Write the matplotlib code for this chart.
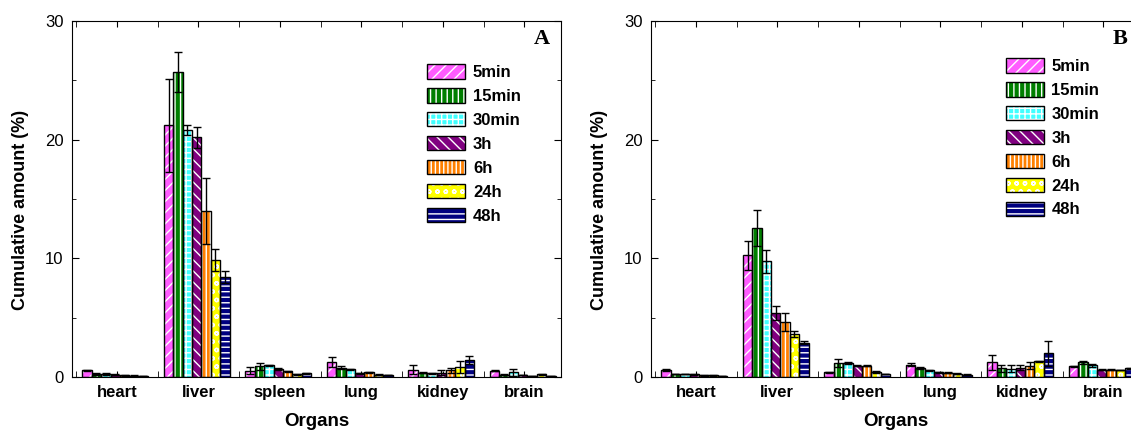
import numpy as np
import matplotlib
matplotlib.use('Agg')
import matplotlib.pyplot as plt
from matplotlib.patches import Patch
from matplotlib.ticker import MultipleLocator

plt.rcParams['font.family'] = ['Liberation Sans', 'DejaVu Sans']
plt.rcParams['hatch.linewidth'] = 1.0

organs = ['heart', 'liver', 'spleen', 'lung', 'kidney', 'brain']
times = ['5min', '15min', '30min', '3h', '6h', '24h', '48h']

# panel A, rows = time points, columns = organs
mean_a = [[0.56, 21.2, 0.54, 1.27, 0.62, 0.54],
          [0.25, 25.7, 0.90, 0.79, 0.37, 0.20],
          [0.25, 20.8, 0.99, 0.65, 0.30, 0.40],
          [0.20, 20.2, 0.65, 0.30, 0.37, 0.17],
          [0.15, 14.0, 0.48, 0.39, 0.56, 0.08],
          [0.12, 9.85, 0.22, 0.20, 0.85, 0.22],
          [0.08, 8.40, 0.30, 0.17, 1.44, 0.08]]
err_a = [[0.05, 3.90, 0.30, 0.42, 0.36, 0.05],
         [0.05, 1.70, 0.28, 0.10, 0.05, 0.05],
         [0.05, 0.40, 0.05, 0.05, 0.05, 0.28],
         [0.03, 0.90, 0.10, 0.05, 0.20, 0.03],
         [0.03, 2.75, 0.05, 0.05, 0.20, 0.03],
         [0.03, 0.95, 0.03, 0.03, 0.53, 0.05],
         [0.02, 0.50, 0.05, 0.03, 0.33, 0.02]]

# panel B
mean_b = [[0.59, 10.25, 0.40, 1.04, 1.24, 0.90],
          [0.25, 12.55, 1.18, 0.75, 0.75, 1.25],
          [0.25, 9.75, 1.18, 0.55, 0.70, 1.00],
          [0.22, 5.40, 0.95, 0.40, 0.80, 0.62],
          [0.15, 4.65, 0.95, 0.37, 0.95, 0.62],
          [0.15, 3.60, 0.40, 0.28, 1.33, 0.58],
          [0.10, 2.90, 0.25, 0.20, 2.00, 0.75]]
err_b = [[0.05, 1.25, 0.05, 0.12, 0.65, 0.05],
         [0.03, 1.50, 0.30, 0.10, 0.30, 0.12],
         [0.03, 0.95, 0.05, 0.03, 0.30, 0.12],
         [0.03, 0.60, 0.03, 0.03, 0.20, 0.03],
         [0.03, 0.75, 0.03, 0.03, 0.30, 0.03],
         [0.03, 0.25, 0.10, 0.03, 0.05, 0.03],
         [0.02, 0.10, 0.03, 0.03, 1.05, 0.05]]

colors = ['#ff5cff', '#007f00', '#40ffff', '#800080', '#ff8000', '#ffff00', '#000080']
hatches = ['///', '|||', '+++', '\\\\\\', '||||', 'oo', '---']

fig = plt.figure(figsize=(11.31, 4.36), dpi=100)
ax_a = fig.add_axes([0.0637, 0.1353, 0.4324, 0.8165])
ax_b = fig.add_axes([0.5756, 0.1353, 0.4324, 0.8165])

x = np.arange(1, len(organs) + 1)
w = 0.115


def draw_panel(ax, mean, err, letter, leg_xy):
    for i in range(len(times)):
        xi = x + (i - 3) * w - 0.02
        ax.bar(xi, mean[i], w, color=colors[i], edgecolor='white', linewidth=0,
               hatch=hatches[i], zorder=2)
        ax.bar(xi, mean[i], w, fill=False, edgecolor='black', linewidth=1, zorder=3)
        ax.errorbar(xi, mean[i], yerr=err[i], fmt='none', ecolor='black',
                    elinewidth=1, capsize=3, capthick=1, zorder=4)
    ax.set_xlim(0.45, 6.45)
    ax.set_ylim(0, 30)
    ax.set_xticks(x)
    ax.set_xticklabels(organs, fontsize=12, fontweight='bold')
    ax.xaxis.set_minor_locator(MultipleLocator(0.5))
    ax.yaxis.set_major_locator(MultipleLocator(10))
    ax.yaxis.set_minor_locator(MultipleLocator(5))
    ax.tick_params(which='both', direction='in', top=True, right=True)
    ax.tick_params(axis='y', which='major', length=5, labelsize=12, pad=6)
    ax.tick_params(axis='y', which='minor', length=3)
    ax.tick_params(axis='x', which='major', length=4, pad=6)
    ax.tick_params(axis='x', which='minor', length=4)
    ax.set_xlabel('Organs', fontsize=13.5, fontweight='bold', labelpad=9)
    ax.set_ylabel('Cumulative amount (%)', fontsize=13, fontweight='bold')
    ax.yaxis.set_label_coords(-0.088, 0.47)
    ax.text(0.96, 0.95, letter, transform=ax.transAxes, ha='center', va='center',
            fontsize=16, fontweight='bold', family='Liberation Serif')
    handles = []
    for i in range(len(times)):
        handles.append((Patch(facecolor=colors[i], edgecolor='white', linewidth=0, hatch=hatches[i]),
                        Patch(fill=False, edgecolor='black', linewidth=1)))
    ax.legend(handles, times, loc='upper left', bbox_to_anchor=leg_xy, frameon=False,
              prop={'weight': 'bold', 'size': 12}, handlelength=2.3, handleheight=0.94,
              handletextpad=0.45, labelspacing=0.48, borderpad=0, borderaxespad=0)


draw_panel(ax_a, mean_a, err_a, 'A', (0.726, 0.878))
draw_panel(ax_b, mean_b, err_b, 'B', (0.725, 0.895))

fig.savefig('out.png', dpi=100)
